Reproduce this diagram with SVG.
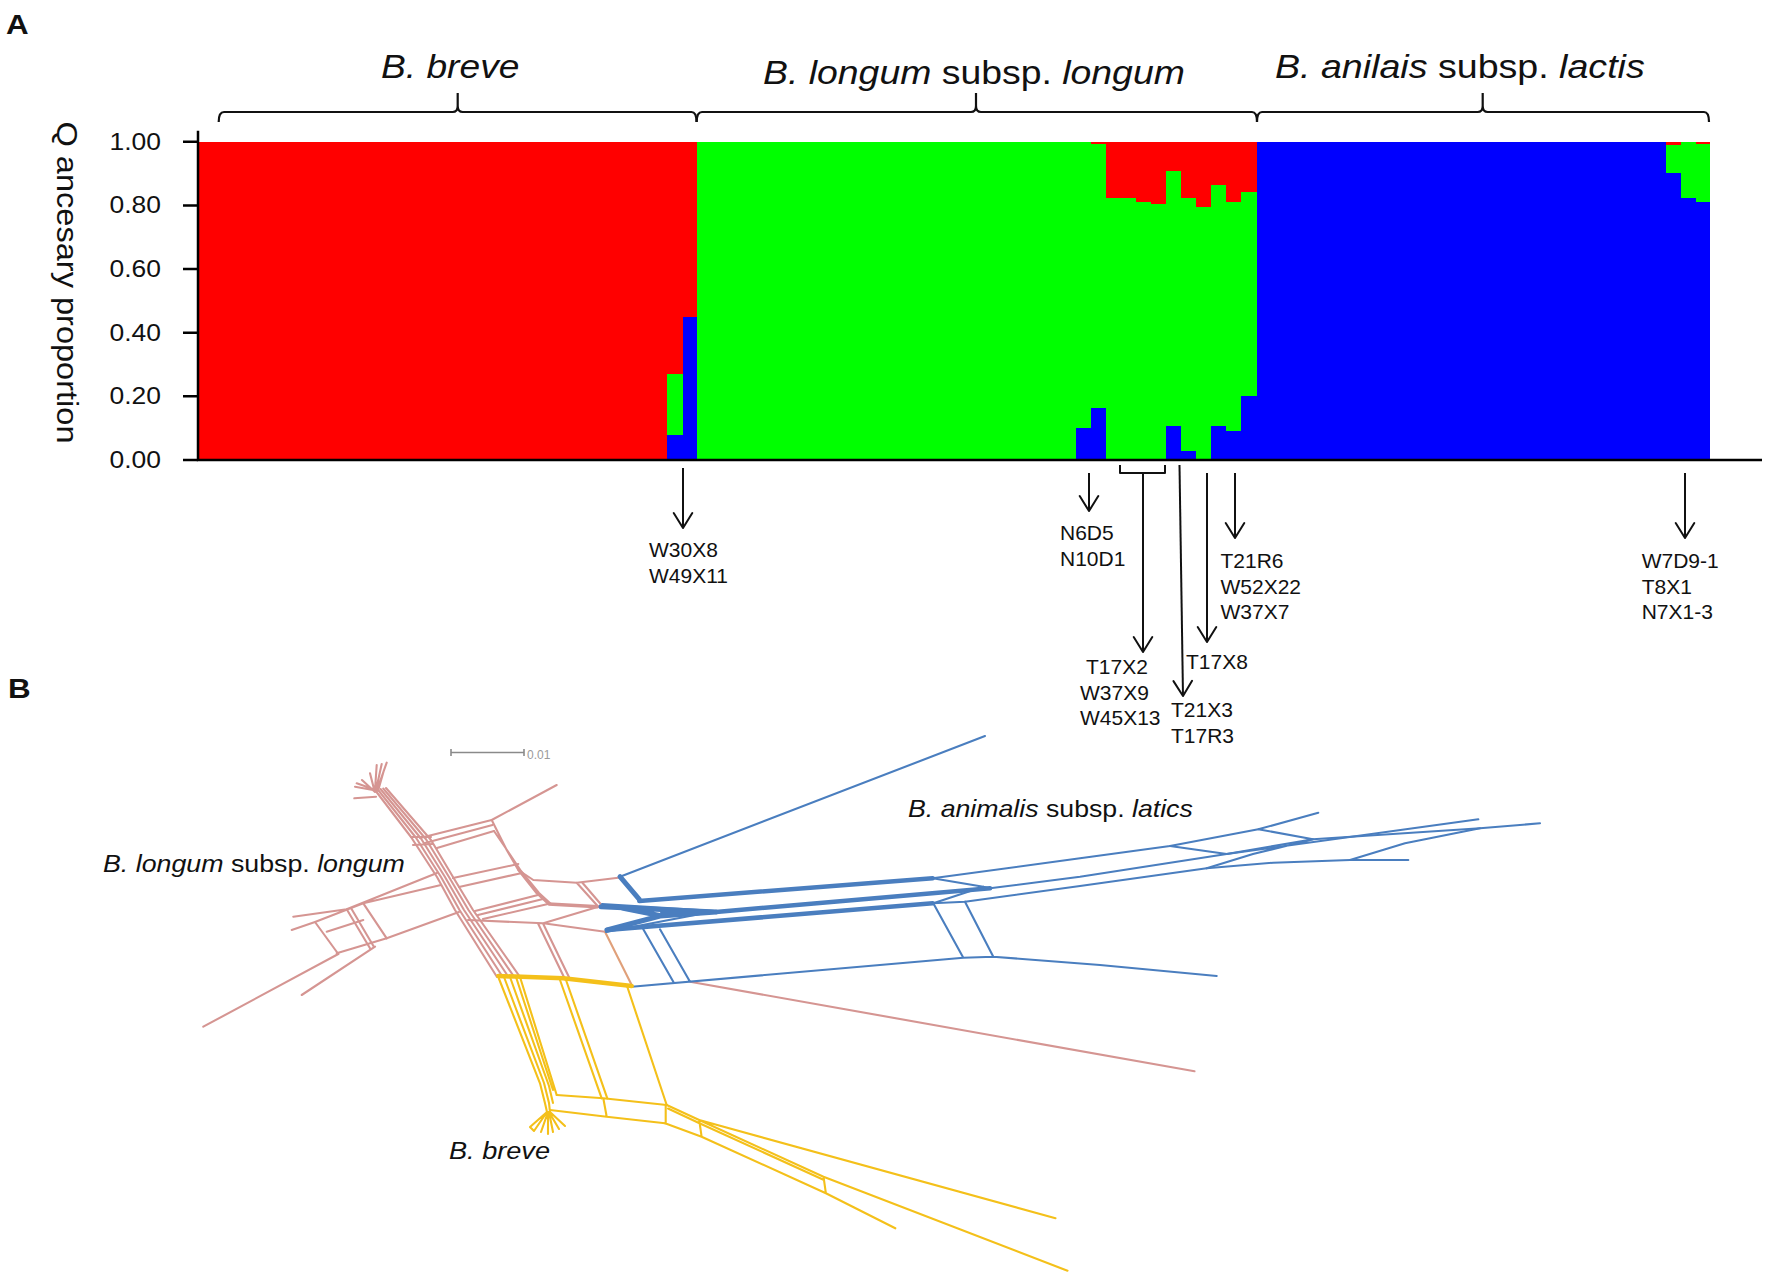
<svg xmlns="http://www.w3.org/2000/svg" width="1772" height="1286" viewBox="0 0 1772 1286">
<style>
text { font-family: "Liberation Sans", Arial, Helvetica, sans-serif; fill: #111; }
.panel { font-size: 28px; font-weight: bold; }
.tick { font-size: 23px; }
.sp { font-size: 32.5px; font-style: italic; }
.spb { font-size: 23px; font-style: italic; }
.up { font-style: normal; }
.lab { font-size: 21px; }
.ax { stroke: #000; stroke-width: 2.5; fill: none; }
.br { stroke: #111; stroke-width: 2.2; fill: none; stroke-linejoin: round; }
.ar { stroke: #111; stroke-width: 2; fill: none; marker-end: url(#ah); }
.r { fill: #ff0000; } .g { fill: #00ff00; } .b { fill: #0000ff; }
.pk { stroke: #d59592; stroke-width: 2.1; fill: none; stroke-linejoin: round; stroke-linecap: round; }
.pkt { stroke: #d59592; stroke-width: 3.5; fill: none; stroke-linejoin: round; }
.bl { stroke: #4a7ebf; stroke-width: 2.1; fill: none; stroke-linejoin: round; stroke-linecap: round; }
.blt { stroke: #4a7ebf; stroke-width: 5; fill: none; stroke-linejoin: round; stroke-linecap: round; }
.yl { stroke: #f4c01a; stroke-width: 2.1; fill: none; stroke-linejoin: round; stroke-linecap: round; }
.ylt { stroke: #f4c01a; stroke-width: 4.5; fill: none; stroke-linejoin: round; stroke-linecap: round; }
.scale { stroke: #8a8a8a; stroke-width: 1.6; fill: none; }
</style>
<defs>
<marker id="ah" viewBox="-17 -11 19 22" refX="0" refY="0" markerWidth="19" markerHeight="22" markerUnits="userSpaceOnUse" orient="auto">
<path d="M-15,-9.3 L0,0 L-15,9.3" fill="none" stroke="#111" stroke-width="2" stroke-linejoin="round" stroke-linecap="round"/>
</marker>
</defs>
<rect width="1772" height="1286" fill="#fff"/>

<g id="panel-labels">
<text class="panel" transform="translate(6,34) scale(1.12,1)">A</text>
<text class="panel" transform="translate(8,698) scale(1.12,1)">B</text>
</g>

<g id="bars" shape-rendering="crispEdges">
<rect class="r" x="198" y="141.7" width="499" height="318.3"/>
<rect class="g" x="666.5" y="374" width="16" height="61"/>
<rect class="b" x="666.5" y="435" width="16" height="25"/>
<rect class="b" x="682.5" y="316.7" width="14.5" height="143.3"/>
<rect class="g" x="697" y="141.7" width="559.6" height="318.3"/>
<rect class="b" x="1076" y="428.3" width="15" height="31.7"/>
<rect class="b" x="1091" y="407.7" width="14.5" height="52.3"/>
<rect class="r" x="1091" y="141.7" width="14.5" height="2.5"/>
<rect class="r" x="1105.5" y="141.7" width="30.1" height="56"/>
<rect class="r" x="1135.6" y="141.7" width="15.8" height="60"/>
<rect class="r" x="1151.4" y="141.7" width="14.6" height="62.3"/>
<rect class="r" x="1166" y="141.7" width="15" height="29.3"/>
<rect class="r" x="1181" y="141.7" width="15.4" height="56"/>
<rect class="r" x="1196.4" y="141.7" width="14.6" height="65.6"/>
<rect class="r" x="1211" y="141.7" width="15" height="43.3"/>
<rect class="r" x="1226" y="141.7" width="15" height="60"/>
<rect class="r" x="1241" y="141.7" width="15.6" height="50"/>
<rect class="b" x="1166" y="426" width="15" height="34"/>
<rect class="b" x="1181" y="451" width="15.4" height="9"/>
<rect class="b" x="1211" y="426" width="15" height="34"/>
<rect class="b" x="1226" y="430.7" width="15" height="29.3"/>
<rect class="b" x="1241" y="395.7" width="15.6" height="64.3"/>
<rect class="b" x="1256.6" y="141.7" width="453.4" height="318.3"/>
<rect class="g" x="1666.3" y="141.7" width="14.2" height="31"/>
<rect class="r" x="1666.3" y="141.7" width="14.2" height="3.3"/>
<rect class="g" x="1680.5" y="141.7" width="15.7" height="56.6"/>
<rect class="g" x="1696.2" y="141.7" width="13.8" height="60.6"/>
<rect class="r" x="1696.2" y="141.7" width="13.8" height="2"/>
</g>

<g id="axes">
<path class="ax" d="M198,130.7 V460 H1762"/>
<path class="ax" d="M183,141.7 H198 M183,205.4 H198 M183,269 H198 M183,332.7 H198 M183,396.3 H198 M183,460 H198"/>
<text class="tick" text-anchor="end" transform="translate(161,149.7) scale(1.15,1)">1.00</text>
<text class="tick" text-anchor="end" transform="translate(161,213.4) scale(1.15,1)">0.80</text>
<text class="tick" text-anchor="end" transform="translate(161,277) scale(1.15,1)">0.60</text>
<text class="tick" text-anchor="end" transform="translate(161,340.7) scale(1.15,1)">0.40</text>
<text class="tick" text-anchor="end" transform="translate(161,404.3) scale(1.15,1)">0.20</text>
<text class="tick" text-anchor="end" transform="translate(161,468) scale(1.15,1)">0.00</text>
<text transform="translate(57,282.5) rotate(90)" text-anchor="middle" font-size="30" textLength="322" lengthAdjust="spacingAndGlyphs">Q ancesary proportion</text>
</g>

<g id="braces">
<path class="br" d="M218.7,122 Q218.7,112 224,112 H452.7 Q457.7,112 457.7,106 V93 M457.7,106 Q457.7,112 462.7,112 H691.5 Q696.5,112 696.5,122"/>
<path class="br" d="M696.7,122 Q696.7,112 702,112 H971 Q976,112 976,106 V93 M976,106 Q976,112 981,112 H1252 Q1257,112 1257,122"/>
<path class="br" d="M1257,122 Q1257,112 1262,112 H1477.7 Q1482.7,112 1482.7,106 V93 M1482.7,106 Q1482.7,112 1487.7,112 H1704 Q1709,112 1709,122"/>
</g>

<g id="species-A">
<text class="sp" transform="translate(381,77.5) scale(1.144,1)">B. breve</text>
<text class="sp" transform="translate(763,83.5) scale(1.151,1)">B. longum<tspan class="up"> subsp. </tspan>longum</text>
<text class="sp" transform="translate(1275,77.5) scale(1.157,1)">B. anilais<tspan class="up"> subsp. </tspan>lactis</text>
</g>

<g id="arrows">
<path class="ar" d="M683,468 V528"/>
<path class="ar" d="M1089,473 V511"/>
<path class="br" style="stroke-width:2" d="M1120,465 V473 H1165 V465"/>
<path class="ar" d="M1143,473 V652"/>
<path class="ar" d="M1179.5,465 L1183,696"/>
<path class="ar" d="M1207,473 V642"/>
<path class="ar" d="M1235,473 V538"/>
<path class="ar" d="M1685,473 V538"/>
</g>

<g id="sample-labels">
<text class="lab" x="649" y="557">W30X8</text>
<text class="lab" x="649" y="583">W49X11</text>
<text class="lab" x="1060" y="540">N6D5</text>
<text class="lab" x="1060" y="566">N10D1</text>
<text class="lab" x="1086" y="674">T17X2</text>
<text class="lab" x="1080" y="699.5">W37X9</text>
<text class="lab" x="1080" y="724.5">W45X13</text>
<text class="lab" x="1171" y="717">T21X3</text>
<text class="lab" x="1171" y="743">T17R3</text>
<text class="lab" x="1186" y="668.5">T17X8</text>
<text class="lab" x="1220.5" y="568">T21R6</text>
<text class="lab" x="1220.5" y="593.5">W52X22</text>
<text class="lab" x="1220.5" y="618.5">W37X7</text>
<text class="lab" x="1641.7" y="568">W7D9-1</text>
<text class="lab" x="1641.7" y="593.5">T8X1</text>
<text class="lab" x="1641.7" y="618.5">N7X1-3</text>
</g>

<g id="scale-bar">
<path class="scale" d="M451,752.5 H524 M451,749 V756 M524,749 V756"/>
<text x="527" y="758.5" font-size="12" style="fill:#9a9a9a">0.01</text>
</g>

<g id="pink-net">
<path class="pk" d="M376,790 L381.7,764 M377,790 L386.7,762.7 M375,790 L376.7,765 M374,789 L370,773.3 M373,789 L356.7,783.3 M373,790 L355,786.7 M376,796.7 L354.3,798.3 M378,791 L384,770 M375,792 L362,780"/>
<path class="pk" d="M375,790 L411,837 L437,877 L455,910 L497,977"/>
<path class="pk" d="M377.75,789.5 L416,837.75 L441,877 L459.5,910 L502.75,977"/>
<path class="pk" d="M380.5,789 L421,838.5 L445,877 L464,910 L508.5,977"/>
<path class="pk" d="M383.25,788.5 L426,839.25 L449,877 L468.5,910 L514.25,977"/>
<path class="pk" d="M386,788 L431,840 L453,877 L473,910 L520,977"/>
<path class="pk" d="M411,837 L431,837 M413,845 L433,844"/>
<path class="pk" d="M420,838 L491.7,820 M425,843 L492.5,825 M437,848 L494,831 M491.7,820 L556.7,785"/>
<path class="pk" d="M491.7,820 L506.7,850 L518.3,870 L536.7,893.3 L548.3,904 M494,831 L509,853 L521,871 L539,893 L551,904"/>
<path class="pk" d="M453,878 L518.3,864 M459,887 L522,873 M475,911 L538,895 M478,915 L543,899 M483,919 L548,904"/>
<path class="pk" d="M518.3,870 L533.3,880 L576.7,882.7 L618.3,877.7 M576.7,882.7 L598.3,906.7 M582,882.3 L603,906.7"/>
<path class="pkt" d="M548.3,904 L598.3,906.7"/>
<path class="pk" d="M468,920 L543.3,923.3 L598.3,906.7 M543.3,923.3 L605,931.7 M538.3,924 L565,979.3 M543.3,924 L570,979.3"/>
<path class="pk" d="M605,931.7 L631.7,985" style="stroke:#e0a07a"/>
<path class="pk" d="M293.3,916.7 L346.7,909.3 L437,873 M291.7,930 L315,922 L363.3,903.3 L441,885"/>
<path class="pk" d="M315,922 L338.3,954 M346.7,909.3 L370,948.3 M351,908 L374,947 M363.3,903.3 L386.7,938.3 M326.7,931.7 L363.3,920"/>
<path class="pk" d="M336.7,953.3 L386.7,938.3 L459,912 M338.3,954 L203.3,1026.7 M375,946.7 L301.7,995"/>
<path class="pk" d="M690,981.7 L1194.5,1071.3"/>
</g>

<g id="blue-net">
<path class="bl" d="M620,876.7 L985,736"/>
<path class="blt" d="M620,876.7 L639.3,899.3"/>
<path class="blt" style="stroke-width:4.5" d="M639.3,901 L932.7,878.3"/>
<path d="M602,904 L716,911 L606,932 L612,928 L662,915 L618,908 Z" fill="#4a7ebf" stroke="#4a7ebf" stroke-width="2" stroke-linejoin="round" fill-opacity="0"/>
<path class="blt" d="M601,906.7 L716,912 M607,930 L660,916 L716,912 M622,908 L662,916"/>
<path d="M660,912 L716,912 L662,918 Z" fill="#4a7ebf"/>
<path class="blt" style="stroke-width:4.5" d="M716,912 L990,888.3 M607,930 L932.7,903.3"/>
<path class="bl" d="M932.7,878.3 L1080,858.3 L1170,846 L1258.3,829.3 L1318.3,812.7"/>
<path class="bl" d="M990,888.3 L1080,876.7 L1226.7,854 L1313,839.3 L1480,828.3 L1540,823.3"/>
<path class="bl" d="M932.7,903.3 L965,901.7 L1080,886 L1206.7,868.3 L1273.3,862.7 L1350,860 L1408.3,860"/>
<path class="bl" d="M932.7,878.3 L983.3,886.7 L990,888.3 M933.3,903.3 L983.3,886.7 M1170,846 L1226.7,854 M1258.3,829.3 L1313,839.3 M1206.7,868.3 L1253,854 L1313,839.3 M1226.7,854 L1478.3,819.3 M1350,860 L1405,843.3 L1480,828.3"/>
<path class="bl" d="M631.7,986.7 L963.3,957.7 L993.3,956.7 L1100,965 L1216.7,976 M933.3,903.3 L963.3,957.7 M965,901.7 L993.3,956.7 M643.3,929.3 L673.3,981.7 M660,929.3 L690,981.7"/>
</g>

<g id="yellow-net">
<path class="ylt" d="M498.3,976 L563.3,978.3 L631.7,986"/>
<path class="yl" d="M498.3,977 L540,1083.3 L545,1103.3 L547,1112 M504,977 L544,1083 L549,1103 L550,1112 M510,977 L549,1086 L553,1103 M516,977 L553,1090 M520,977 L556.7,1095"/>
<path class="yl" d="M560,980 L601.7,1098.3 M566,980 L607.3,1098.3 M626.7,985 L666.7,1105"/>
<path class="yl" d="M556.7,1095 L603.3,1098.3 L666.7,1105 M550,1110 L606.7,1116.7 L665,1123.3 M603.3,1098.3 L606.7,1116.7"/>
<path class="yl" d="M666.7,1105 L699.2,1120 L823.5,1176.7 L1067.5,1270.7 M668,1108.5 L700,1123.5 L824,1180 M699.2,1120 L1055.5,1218.3 M665,1123.3 L701.6,1136.7 L825.9,1193.3 L895.3,1228.3 M665.7,1105 L665.7,1123.3 M699.2,1120 L701.6,1136.7 M823.5,1176.7 L825.9,1193.3"/>
<path class="yl" d="M547,1112 L530,1127 M547,1112 L534,1131 M548,1112 L541,1132 M548,1112 L548,1134 M549,1112 L553,1132 M549,1112 L559,1129 M550,1112 L565,1126 M530,1127 L534,1131"/>
</g>

<g id="species-B">
<text class="spb" transform="translate(103,872) scale(1.164,1)">B. longum<tspan class="up"> subsp. </tspan>longum</text>
<text class="spb" transform="translate(908,816.5) scale(1.161,1)">B. animalis<tspan class="up"> subsp. </tspan>latics</text>
<text class="spb" transform="translate(449,1158.5) scale(1.18,1)">B. breve</text>
</g>
</svg>
